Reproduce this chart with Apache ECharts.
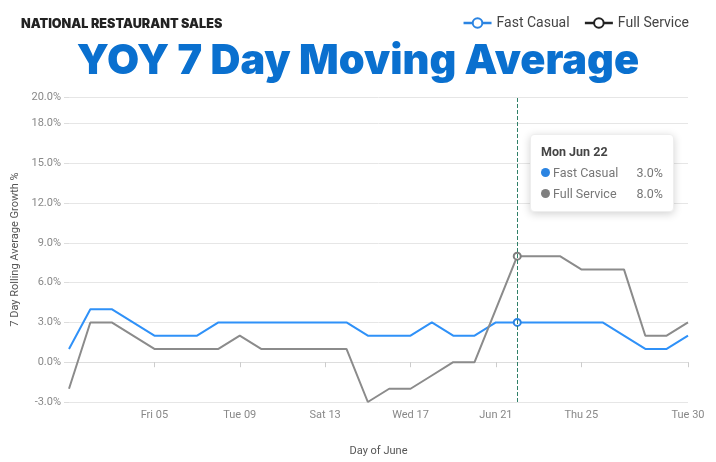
<!DOCTYPE html>
<html>
<head>
<meta charset="utf-8">
<script src="https://cdn.jsdelivr.net/npm/echarts@6/dist/echarts.min.js"></script>
<style>
html,body{margin:0;padding:0;background:#fff;}
#chart{width:716px;height:462px;}
</style>
</head>
<body>
<div id="chart"></div>
<script>
// ---- data ----
var categories = [
  'Mon Jun 01','Tue Jun 02','Wed Jun 03','Thu Jun 04','Fri Jun 05','Sat Jun 06','Sun Jun 07',
  'Mon Jun 08','Tue Jun 09','Wed Jun 10','Thu Jun 11','Fri Jun 12','Sat Jun 13','Sun Jun 14',
  'Mon Jun 15','Tue Jun 16','Wed Jun 17','Thu Jun 18','Fri Jun 19','Sat Jun 20','Sun Jun 21',
  'Mon Jun 22','Tue Jun 23','Wed Jun 24','Thu Jun 25','Fri Jun 26','Sat Jun 27','Sun Jun 28',
  'Mon Jun 29','Tue Jun 30'
];
var fastCasual = [1,4,4,3,2,2,2,3,3,3,3,3,3,3,2,2,2,3,2,2,3,3,3,3,3,3,2,1,1,2];
var fullService = [-2,3,3,2,1,1,1,1,2,1,1,1,1,1,-3,-2,-2,-1,0,0,4,8,8,8,7,7,7,2,2,3];
var xTickIndex = [4,8,12,16,20,24,29];
var xTickLabels = ['Fri 05','Tue 09','Sat 13','Wed 17','Jun 21','Thu 25','Tue 30'];
var seriesNames = ['Fast Casual','Full Service'];
var hoverIndex = 21;

var chart = echarts.init(document.getElementById('chart'), null, {renderer:'canvas'});
var blue = '#2b84e2', gray = '#7f7f7f';

function tickShown(i){ return xTickIndex.indexOf(i) >= 0; }

var option = {
  animation: false,
  backgroundColor: '#fff',
  title: [
    { text: 'NATIONAL RESTAURANT SALES', left: 16, top: 13,
      textStyle: { fontFamily: 'Inter', fontWeight: 900, fontSize: 12.6, color: '#222', letterSpacing: 0.2 } },
    { text: 'YOY 7 Day Moving Average', left: 'center', top: 36,
      textStyle: { fontFamily: 'Inter', fontWeight: 900, fontSize: 41.5, color: '#0a70cf' } }
  ],
  legend: {
    right: 22, top: 11, itemWidth: 28, itemHeight: 12, itemGap: 14,
    textStyle: { fontFamily: 'Roboto', fontSize: 14, color: '#444' },
    data: [
      { name: 'Fast Casual', lineStyle: { width: 2.5 } },
      { name: 'Full Service', itemStyle: { color: '#222', borderColor: '#222' }, lineStyle: { color: '#222', width: 2.5 } }
    ]
  },
  grid: { left: 69, right: 28, top: 97, bottom: 60 },
  tooltip: {
    trigger: 'axis',
    alwaysShowContent: true,
    backgroundColor: '#fff',
    borderColor: '#eee',
    borderWidth: 1,
    padding: [8, 10, 7, 10],
    extraCssText: 'box-shadow:0 2px 8px rgba(0,0,0,0.18);border-radius:4px;',
    position: function(){ return [530, 134]; },
    axisPointer: { type: 'line', lineStyle: { color: '#2f8068', type: 'dashed', width: 1 } },
    formatter: function(params){
      var h = '<div style="font-family:Roboto;font-size:12.5px;font-weight:bold;color:#444;line-height:18px;margin-bottom:1px;">' + params[0].axisValue + '</div>';
      params.forEach(function(p){
        h += '<div style="font-family:Roboto;font-size:12.5px;color:#777;line-height:21px;white-space:nowrap;">' +
          '<span style="display:inline-block;width:9px;height:9px;border-radius:50%;background:' + p.color + ';margin-right:3px;"></span>' +
          '<span style="display:inline-block;width:80px;">' + p.seriesName + '</span>' +
          '<span style="display:inline-block;text-align:right;width:30px;">' + p.value.toFixed(1) + '%</span></div>';
      });
      return h;
    }
  },
  xAxis: {
    type: 'category',
    data: categories,
    boundaryGap: false,
    name: 'Day of June',
    nameLocation: 'middle',
    nameGap: 44,
    nameTextStyle: { fontFamily: 'Roboto', fontSize: 11, color: '#555' },
    axisLine: { lineStyle: { color: '#ddd' } },
    axisTick: { show: true, length: 5, interval: function(i){ return tickShown(i); }, lineStyle: { color: '#ccc' } },
    axisLabel: {
      interval: function(i){ return tickShown(i); },
      formatter: function(v, i){ var k = xTickIndex.indexOf(i); return k >= 0 ? xTickLabels[k] : ''; },
      fontFamily: 'Roboto', fontSize: 11, color: '#888', margin: 8
    },
    splitLine: { show: false }
  },
  yAxis: {
    type: 'value',
    min: -3, max: 20, interval: 3,
    name: '7 Day Rolling Average Growth %',
    nameLocation: 'middle',
    nameGap: 48,
    nameTextStyle: { fontFamily: 'Roboto', fontSize: 11, color: '#555' },
    axisLine: { show: false },
    axisTick: { show: true, length: 5, lineStyle: { color: '#ddd' } },
    axisLabel: { formatter: function(v){ return v.toFixed(1) + '%'; }, fontFamily: 'Roboto', fontSize: 11, color: '#888', margin: 8 },
    splitLine: { lineStyle: { color: '#e6e6e6' } }
  },
  series: [
    { name: seriesNames[0], type: 'line', data: fastCasual, color: blue, symbol: 'emptyCircle', symbolSize: 7, showSymbol: false,
      lineStyle: { width: 2, color: blue }, itemStyle: { color: blue, borderWidth: 1.5 }, emphasis: { scale: 1 } },
    { name: seriesNames[1], type: 'line', data: fullService, color: gray, symbol: 'emptyCircle', symbolSize: 7, showSymbol: false,
      lineStyle: { width: 2, color: gray }, itemStyle: { color: gray, borderColor: '#555', borderWidth: 1.5 }, emphasis: { scale: 1 } }
  ]
};
chart.setOption(option);
chart.dispatchAction({ type: 'showTip', seriesIndex: 0, dataIndex: hoverIndex });
</script>
</body>
</html>
